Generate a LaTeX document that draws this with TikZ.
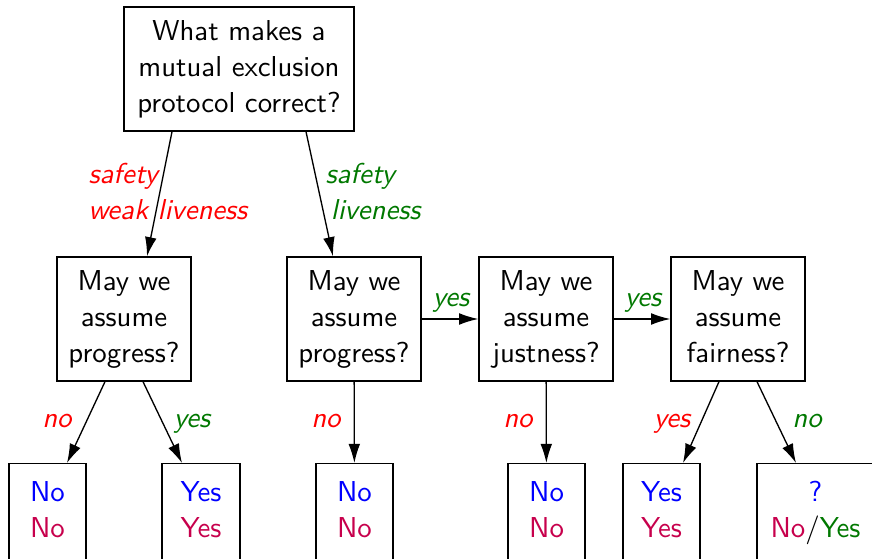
\documentclass[tikz,border=0pt]{standalone}
\usetikzlibrary{arrows.meta}
\renewcommand{\familydefault}{\sfdefault}
\definecolor{okgreen}{rgb}{0,0.47,0}
\definecolor{nored}{rgb}{0.78,0,0.3}
\newcommand\pxu{0.375pt}
\begin{document}
\begin{tikzpicture}[x=0.375pt,y=-0.375pt,
  font=\fontsize{10.8}{13.5}\selectfont\sffamily,
  box/.style={draw,line width=0.5pt,inner sep=0pt,align=center},
  leaf/.style={box,anchor=north,minimum height=110*\pxu},
  leaftxt/.style={anchor=north,inner sep=0pt,align=center},
  arr/.style={line width=0.5pt,-{Latex[length=7.2pt,width=4.4pt]}},
  lab/.style={font=\fontsize{10.8}{13.5}\selectfont\sffamily\itshape,inner sep=0pt},
  elab/.style={lab,anchor=base}]
\useasboundingbox (0,0) rectangle (872,559);
\node[box,minimum width=230*\pxu,minimum height=124*\pxu] (top) at (239,69) {What makes a\\mutual exclusion\\protocol correct?};
\node[box,minimum width=134*\pxu,minimum height=124*\pxu] (a) at (124,319) {May we\\assume\\progress?};
\node[box,minimum width=134*\pxu,minimum height=124*\pxu] (b) at (354,319) {May we\\assume\\progress?};
\node[box,minimum width=134*\pxu,minimum height=124*\pxu] (c) at (546,319) {May we\\assume\\justness?};
\node[box,minimum width=134*\pxu,minimum height=124*\pxu] (d) at (738,319) {May we\\assume\\fairness?\vphantom{g}};
\node[leaf,minimum width=77*\pxu] (l1) at (47.5,463) {};
\node[leaf,minimum width=78*\pxu] (l2) at (201,463) {};
\node[leaf,minimum width=77*\pxu] (l3) at (354.5,463) {};
\node[leaf,minimum width=77*\pxu] (l4) at (546.5,463) {};
\node[leaf,minimum width=77*\pxu] (l5) at (661.5,463) {};
\node[leaf,minimum width=117*\pxu] (l6) at (815.5,463) {};
\node[leaftxt] (t1) at (47.5,481) {\textcolor{blue}{No}\\\textcolor{nored}{No}};
\node[leaftxt] (t2) at (201,481) {\textcolor{blue}{Yes}\\\textcolor{nored}{Yes}};
\node[leaftxt] (t3) at (354.5,481) {\textcolor{blue}{No}\\\textcolor{nored}{No}};
\node[leaftxt] (t4) at (546.5,481) {\textcolor{blue}{No}\\\textcolor{nored}{No}};
\node[leaftxt] (t5) at (661.5,481) {\textcolor{blue}{Yes}\\\textcolor{nored}{Yes}};
\node[leaftxt] (t6) at (815.5,481) {\textcolor{blue}{?}\\\textcolor{nored}{No}/\textcolor{okgreen}{Yes}};
\draw[arr] (top.south -| 172,0) -- (a.north -| 147,0);
\draw[arr] (top.south -| 306,0) -- (b.north -| 333,0);
\draw[arr] (b) -- (c);
\draw[arr] (c) -- (d);
\draw[arr] (a.south -| 105,0) -- (l1.north -| 67,0);
\draw[arr] (a.south -| 143,0) -- (l2.north -| 182,0);
\draw[arr] (b) -- (l3);
\draw[arr] (c) -- (l4);
\draw[arr] (d.south -| 719,0) -- (l5.north -| 683,0);
\draw[arr] (d.south -| 757,0) -- (l6.north -| 796,0);
\node[lab,red,align=left,anchor=west] (la) at (88,192) {safety\\weak liveness};
\node[lab,okgreen,align=left,anchor=west] (lb) at (325,192) {safety\\\hspace{2pt}liveness};
\node[elab,okgreen] (lbc) at (451,307) {yes};
\node[elab,okgreen] (lcd) at (643,307) {yes};
\node[elab,red] (n1) at (57,428) {no};
\node[elab,okgreen] (y1) at (192,428) {yes};
\node[elab,red] (n2) at (326,428) {no};
\node[elab,red] (n3) at (518,428) {no};
\node[elab,red] (y2) at (672,428) {yes};
\node[elab,okgreen] (n4) at (807,428) {no};
\end{tikzpicture}
\end{document}
